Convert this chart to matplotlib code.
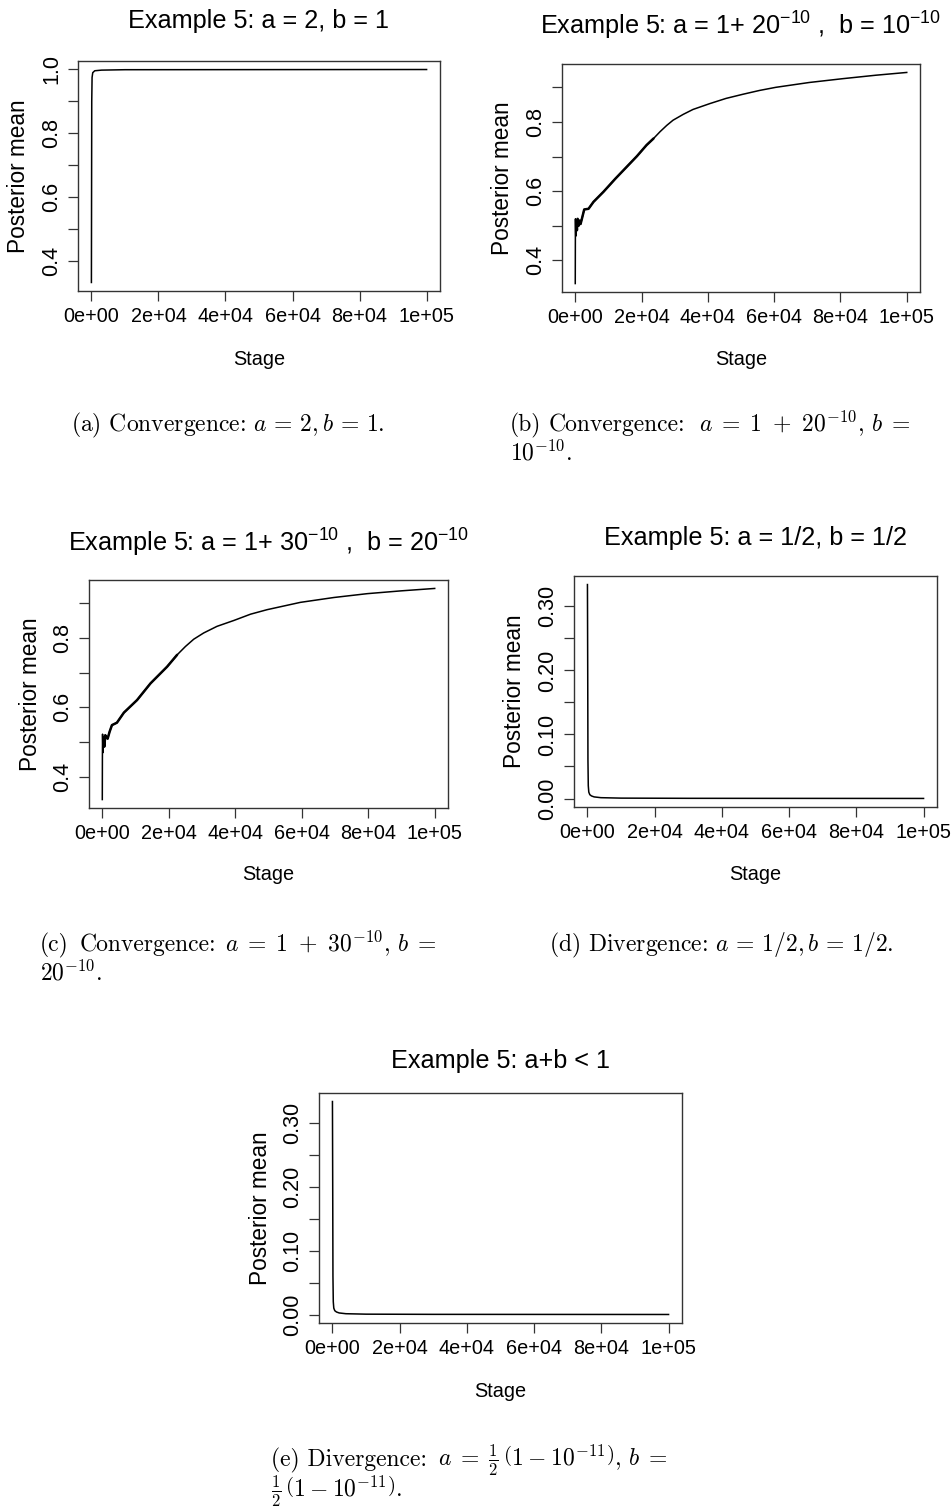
import matplotlib
matplotlib.use('Agg')
import matplotlib.pyplot as plt

W, H = 952, 1510

# values (stage, posterior mean)
stage_a = [0, 100, 200, 400, 1000, 3000, 10000, 100000]
mean_a = [0.333, 0.90, 0.975, 0.99, 0.996, 0.998, 0.9993, 0.9999]

stage_b = [0, 30, 60, 150, 300, 500, 700, 1000, 1300, 1600, 2000, 2700, 3300, 4000,
           5500, 8500, 12100, 15500, 18600, 21500, 23600, 25600, 27600, 29500, 32600,
           35500, 40600, 45500, 50600, 55600, 60500, 70600, 80700, 90700, 100000]
mean_b = [0.333, 0.45, 0.52, 0.47, 0.51, 0.487, 0.52, 0.50, 0.515, 0.505, 0.52, 0.547,
          0.548, 0.549, 0.569, 0.598, 0.636, 0.670, 0.701, 0.733, 0.752, 0.772, 0.790,
          0.805, 0.822, 0.836, 0.853, 0.868, 0.880, 0.891, 0.900, 0.914, 0.925, 0.935,
          0.943]

stage_c = [0, 30, 80, 200, 400, 600, 900, 1200, 1600, 2200, 2900, 4400, 6500, 10450,
           14500, 19500, 22500, 25000, 27500, 30500, 34500, 39600, 44600, 49600, 59600,
           69700, 79700, 89800, 100000]
mean_c = [0.335, 0.45, 0.523, 0.47, 0.515, 0.487, 0.52, 0.515, 0.51, 0.53, 0.549, 0.556,
          0.585, 0.621, 0.669, 0.717, 0.751, 0.775, 0.796, 0.814, 0.833, 0.850, 0.868,
          0.881, 0.902, 0.916, 0.927, 0.935, 0.942]

stage_d = [0, 80, 150, 250, 400, 700, 1200, 2000, 4000, 10000, 30000, 100000]
mean_d = [0.334, 0.20, 0.06, 0.02, 0.010, 0.006, 0.004, 0.0025, 0.0013, 0.0006, 0.0003, 0.0001]

stage_e = [0, 80, 150, 250, 400, 700, 1200, 2000, 4000, 10000, 30000, 100000]
mean_e = [0.333, 0.20, 0.06, 0.02, 0.010, 0.006, 0.004, 0.0025, 0.0013, 0.0006, 0.0003, 0.0001]

xticks = [0, 20000, 40000, 60000, 80000, 100000]
xtick_labels = ['0e+00', '2e+04', '4e+04', '6e+04', '8e+04', '1e+05']
yticks_a = [0.4, 0.5, 0.6, 0.7, 0.8, 0.9, 1.0]
ylabels_a = ['0.4', '', '0.6', '', '0.8', '', '1.0']
yticks_bc = [0.4, 0.5, 0.6, 0.7, 0.8, 0.9]
ylabels_bc = ['0.4', '', '0.6', '', '0.8', '']
yticks_de = [0.0, 0.05, 0.10, 0.15, 0.20, 0.25, 0.30]
ylabels_de = ['0.00', '', '0.10', '', '0.20', '', '0.30']

titles = ['Example 5: a = 2, b = 1',
          r'Example 5: a = 1+ $20^{-10}$ ,  b = $10^{-10}$',
          r'Example 5: a = 1+ $30^{-10}$ ,  b = $20^{-10}$',
          'Example 5: a = 1/2, b = 1/2',
          'Example 5: a+b < 1']

plt.rcParams['mathtext.fontset'] = 'custom'
plt.rcParams['mathtext.rm'] = 'Liberation Sans'
plt.rcParams['mathtext.it'] = 'Liberation Sans:italic'
plt.rcParams['mathtext.bf'] = 'Liberation Sans:bold'
plt.rcParams['font.family'] = 'Liberation Sans'

fig = plt.figure(figsize=(W / 100, H / 100), dpi=100)
box_col = '#333333'


def panel(box, x, y, yt, yl, title, title_y, ylab_x, xlab_y, noisy=None):
    x0, y0, x1, y1 = box
    ax = fig.add_axes([x0 / W, 1 - y1 / H, (x1 - x0) / W, (y1 - y0) / H])
    ax.plot(x, y, color='black', lw=1.1)
    if noisy:
        # the jittery early stretch prints heavier in the original
        i0 = sum(1 for v in x if v < noisy[0])
        i1 = sum(1 for v in x if v <= noisy[1])
        ax.plot(x[i0:i1], y[i0:i1], color='black', lw=1.8, solid_capstyle='round')
    sx = max(x) - min(x)
    sy = max(y) - min(y)
    ax.set_xlim(min(x) - 0.04 * sx, max(x) + 0.04 * sx)
    ax.set_ylim(min(y) - 0.04 * sy, max(y) + 0.04 * sy)
    ax.set_xticks(xticks)
    ax.set_xticklabels(xtick_labels, fontsize=14.3)
    ax.set_yticks(yt)
    ax.set_yticklabels(yl, rotation=90, va='center', fontsize=15.5)
    for s in ax.spines.values():
        s.set_color(box_col)
        s.set_linewidth(1.0)
    ax.tick_params(direction='out', length=7.2, width=0.9, color=box_col)
    ax.tick_params(axis='x', pad=4.5)
    ax.tick_params(axis='y', pad=4.0)
    ax.set_xlabel('Stage', fontsize=14.3)
    ax.xaxis.set_label_coords(0.5, (y1 - xlab_y) / (y1 - y0))
    ax.set_ylabel('Posterior mean', fontsize=16.3)
    ax.yaxis.set_label_coords((ylab_x - x0) / (x1 - x0), 0.5)
    fig.text((x0 + x1) / 2 / W, 1 - title_y / H, title, ha='center', va='baseline',
             fontsize=18.2, math_fontfamily='custom')
    return ax


panel((78, 61, 440, 291), stage_a, mean_a, yticks_a, ylabels_a, titles[0], 28, 30, 350)
panel((562, 64, 920, 292), stage_b, mean_b, yticks_bc, ylabels_bc, titles[1], 35, 514, 350,
      noisy=(300, 24000))
panel((89, 580, 448, 808), stage_c, mean_c, yticks_bc, ylabels_bc, titles[2], 552, 42, 865,
      noisy=(300, 23000))
panel((574, 576, 937, 807), stage_d, mean_d, yticks_de, ylabels_de, titles[3], 545, 526, 865)
panel((319, 1093, 682, 1323), stage_e, mean_e, yticks_de, ylabels_de, titles[4], 1068, 272, 1382)


def cap(x, y, s, ha='left'):
    fig.text(x / W, 1 - y / H, s, ha=ha, va='baseline', fontsize=17,
             family='cmr10', math_fontfamily='cm')


# captions: LaTeX justified the first lines of (b), (c), (e), so the pieces are placed apart
cap(228, 431, r'(a) Convergence: $a\,=\,2, b\,=\,1$.', ha='center')
cap(510, 431, '(b)')
cap(549, 431, 'Convergence:')
cap(911, 431, r'$a\;=\;1\ +\ 20^{-10},\, b\;=$', ha='right')
cap(510, 460, r'$10^{-10}$.')
cap(40, 951, '(c)')
cap(80, 951, 'Convergence:')
cap(437, 951, r'$a\;=\;1\ +\ 30^{-10},\, b\;=$', ha='right')
cap(40, 980, r'$20^{-10}$.')
cap(721, 951, r'(d) Divergence: $a\,=\,1/2, b\,=\,1/2$.', ha='center')
cap(271, 1466, '(e) Divergence:')
cap(667, 1466, r'$a\;=\;\frac{1}{2}\,\left(1\:-\:10^{-11}\right),\, b\;=$', ha='right')
cap(271, 1497, r'$\frac{1}{2}\,\left(1-10^{-11}\right)$.')

fig.savefig('out.png', dpi=100)
